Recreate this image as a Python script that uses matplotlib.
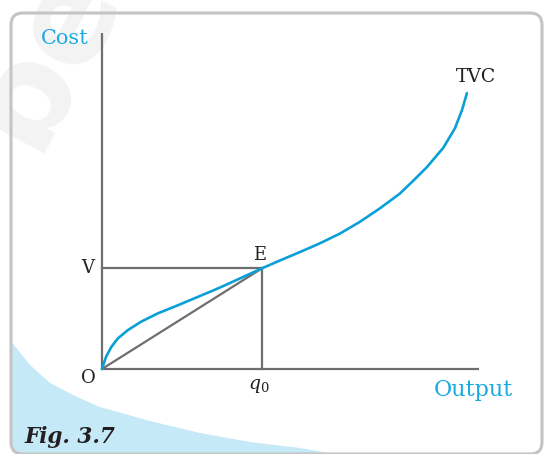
import numpy as np
import matplotlib.pyplot as plt
from matplotlib.patches import FancyBboxPatch, Polygon

# TVC curve (output, cost)
output = [0, 0.05, 0.11, 0.25, 0.42, 0.69, 1.04, 1.49, 2.02, 2.55, 3.08, 3.61,
          4.25, 4.72, 5.25, 5.78, 6.31, 6.84, 7.37, 7.90, 8.28, 8.62, 9.05,
          9.36, 9.55, 9.68]
tvc = [0, 0.17, 0.37, 0.66, 0.91, 1.16, 1.41, 1.66, 1.90, 2.15, 2.40, 2.67,
       3.00, 3.23, 3.48, 3.74, 4.03, 4.38, 4.78, 5.22, 5.63, 6.01, 6.58,
       7.16, 7.71, 8.21]
q0 = 4.25
V = 3.0
x_end = 10
y_end = 10

blue = '#0b9fd8'
label_blue = '#1aa9e2'
grey = '#6d6e71'
ink = '#231f20'

plt.rcParams['mathtext.fontset'] = 'dejavuserif'

fig = plt.figure(figsize=(5.44, 4.54), dpi=100)

# background layer in pixel units: card frame, shaded corner, watermark
bg = fig.add_axes([0, 0, 1, 1])
bg.set_xlim(0, 544)
bg.set_ylim(454, 0)
bg.axis('off')

bg.text(45, 55, 'be', fontsize=95, color='#f3f3f3', rotation=62,
        ha='center', va='center', family='DejaVu Sans', weight='bold')

frame = FancyBboxPatch((11, 13), 531, 441, boxstyle='round,pad=0,rounding_size=12',
                       facecolor='none', edgecolor='#c4c4c4', linewidth=2.2, zorder=5)
bg.add_patch(frame)

edge_x = [10, 30, 50, 75, 100, 150, 200, 250, 300, 335]
edge_y = [340, 365, 383, 396, 407, 421, 433, 442, 448, 454]
shade = Polygon(list(zip(edge_x, edge_y)) + [(10, 454)], closed=True,
                facecolor='#c6e9f8', edgecolor='none', zorder=1)
bg.add_patch(shade)
shade.set_clip_path(frame)

bg.text(25, 437, 'Fig. 3.7', fontsize=15.5, color=ink, family='DejaVu Serif',
        weight='bold', style='italic', ha='left', va='center', zorder=6)

# chart layer in data units
ax = fig.add_axes([0, 0, 1, 1])
ax.patch.set_alpha(0)
ax.set_xlim(-102 / 37.7, 442 / 37.7)
ax.set_ylim(-85 / 33.6, 369 / 33.6)
ax.axis('off')

ax.plot([0, 0], [0, y_end], color=grey, lw=1.6, solid_capstyle='butt')
ax.plot([0, x_end], [0, 0], color=grey, lw=1.6, solid_capstyle='butt')
ax.plot([0, q0], [V, V], color=grey, lw=1.6)
ax.plot([q0, q0], [V, 0], color=grey, lw=1.6)
ax.plot([0, q0], [0, V], color=grey, lw=1.6)
ax.plot(output, tvc, color=blue, lw=1.9, solid_capstyle='round',
        solid_joinstyle='round')

serif = 'DejaVu Serif'
ax.text(-0.98, 9.85, 'Cost', color=label_blue, fontsize=15, family=serif,
        ha='center', va='center')
ax.text(9.84, -0.62, 'Output', color=label_blue, fontsize=16, family=serif,
        ha='center', va='center')
ax.text(9.92, 8.69, 'TVC', color=ink, fontsize=13.5, family=serif,
        ha='center', va='center')
ax.text(q0 - 0.08, V + 0.38, 'E', color=ink, fontsize=13, family=serif,
        ha='center', va='center')
ax.text(-0.37, V, 'V', color=ink, fontsize=13, family=serif,
        ha='center', va='center')
ax.text(-0.37, -0.27, 'O', color=ink, fontsize=13, family=serif,
        ha='center', va='center')
ax.text(q0 - 0.1, -0.5, r'$q_{0}$', color=ink, fontsize=13.5,
        ha='center', va='center')

fig.savefig('out.png', dpi=100)
